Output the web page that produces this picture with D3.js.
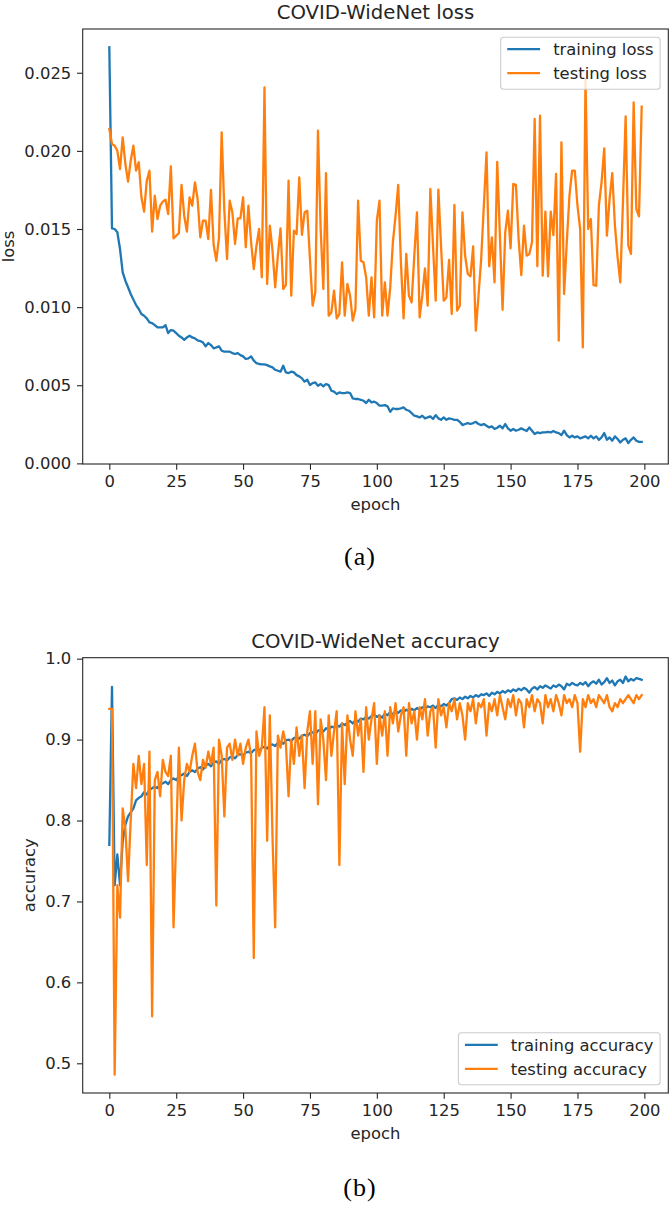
<!DOCTYPE html>
<html>
<head>
<meta charset="utf-8">
<script src="https://cdn.jsdelivr.net/npm/d3@7"></script>
<style>
  body { margin: 0; background: #fff; }
  text { font-family: "DejaVu Sans", sans-serif; fill: #262626; }
</style>
</head>
<body>
<div id="chart"></div>
<script>
// ---- tick labels ----
var epochTicks = [0, 25, 50, 75, 100, 125, 150, 175, 200];
var lossTicks = [0, 0.005, 0.010, 0.015, 0.020, 0.025];
var accTicks = [0.5, 0.6, 0.7, 0.8, 0.9, 1.0];

// ---- series (one value per epoch, 0..199) ----
var trainLoss = [
  0.02663, 0.01504, 0.01500, 0.01479, 0.01372, 0.01223, 0.01169, 0.01127, 0.01084, 0.01048,
  0.01013, 0.00988, 0.00956, 0.00945, 0.00928, 0.00902, 0.00898, 0.00885, 0.00870, 0.00870,
  0.00870, 0.00885, 0.00834, 0.00853, 0.00849, 0.00834, 0.00817, 0.00806, 0.00791, 0.00806,
  0.00817, 0.00806, 0.00800, 0.00787, 0.00783, 0.00774, 0.00749, 0.00770, 0.00757, 0.00736,
  0.00742, 0.00749, 0.00721, 0.00715, 0.00715, 0.00715, 0.00706, 0.00700, 0.00706, 0.00693,
  0.00685, 0.00668, 0.00672, 0.00685, 0.00657, 0.00642, 0.00636, 0.00634, 0.00634, 0.00629,
  0.00621, 0.00614, 0.00599, 0.00593, 0.00587, 0.00625, 0.00582, 0.00578, 0.00587, 0.00582,
  0.00565, 0.00557, 0.00544, 0.00523, 0.00535, 0.00501, 0.00514, 0.00518, 0.00497, 0.00508,
  0.00493, 0.00508, 0.00501, 0.00465, 0.00459, 0.00444, 0.00454, 0.00450, 0.00450, 0.00454,
  0.00450, 0.00416, 0.00412, 0.00412, 0.00407, 0.00401, 0.00386, 0.00407, 0.00390, 0.00395,
  0.00386, 0.00369, 0.00369, 0.00373, 0.00365, 0.00330, 0.00352, 0.00348, 0.00348, 0.00352,
  0.00358, 0.00343, 0.00337, 0.00322, 0.00305, 0.00301, 0.00294, 0.00305, 0.00288, 0.00294,
  0.00301, 0.00284, 0.00309, 0.00288, 0.00279, 0.00294, 0.00279, 0.00288, 0.00284, 0.00279,
  0.00279, 0.00266, 0.00245, 0.00252, 0.00258, 0.00252, 0.00258, 0.00266, 0.00252, 0.00245,
  0.00252, 0.00241, 0.00230, 0.00237, 0.00220, 0.00228, 0.00241, 0.00224, 0.00252, 0.00224,
  0.00209, 0.00220, 0.00209, 0.00215, 0.00224, 0.00215, 0.00207, 0.00230, 0.00209, 0.00188,
  0.00198, 0.00194, 0.00198, 0.00198, 0.00202, 0.00198, 0.00207, 0.00198, 0.00194, 0.00181,
  0.00209, 0.00181, 0.00166, 0.00177, 0.00166, 0.00173, 0.00160, 0.00166, 0.00173, 0.00160,
  0.00177, 0.00160, 0.00173, 0.00151, 0.00166, 0.00194, 0.00151, 0.00166, 0.00145, 0.00173,
  0.00156, 0.00134, 0.00151, 0.00160, 0.00130, 0.00151, 0.00166, 0.00145, 0.00138, 0.00138
];
var testLoss = [
  0.02140, 0.02044, 0.02033, 0.02001, 0.01884, 0.02087, 0.01916, 0.01803, 0.01937, 0.02033,
  0.01873, 0.01927, 0.01703, 0.01611, 0.01809, 0.01873, 0.01483, 0.01713, 0.01564, 0.01649,
  0.01675, 0.01688, 0.01596, 0.01901, 0.01440, 0.01457, 0.01474, 0.01782, 0.01585, 0.01483,
  0.01703, 0.01649, 0.01799, 0.01692, 0.01447, 0.01553, 0.01553, 0.01436, 0.01750, 0.01398,
  0.01297, 0.01447, 0.02119, 0.01617, 0.01308, 0.01681, 0.01607, 0.01404, 0.01568, 0.01568,
  0.01703, 0.01383, 0.01649, 0.01415, 0.01244, 0.01393, 0.01500, 0.01191, 0.02407, 0.01148,
  0.01521, 0.01361, 0.01127, 0.01329, 0.01504, 0.01116, 0.01141, 0.01809, 0.01073, 0.01489,
  0.01468, 0.01831, 0.01462, 0.01607, 0.01617, 0.01308, 0.01009, 0.01095, 0.02129, 0.01500,
  0.01116, 0.01858, 0.00945, 0.00966, 0.01105, 0.00928, 0.00956, 0.01287, 0.00945, 0.01148,
  0.01073, 0.00913, 0.00988, 0.01681, 0.01297, 0.01287, 0.01191, 0.00945, 0.01191, 0.00934,
  0.01553, 0.01681, 0.00945, 0.01158, 0.00945, 0.01126, 0.01415, 0.01585, 0.01782, 0.01286,
  0.00928, 0.01340, 0.01073, 0.01030, 0.01329, 0.01607, 0.00934, 0.01073, 0.01248, 0.01009,
  0.01756, 0.01393, 0.01041, 0.01752, 0.01393, 0.01041, 0.01062, 0.01303, 0.00956, 0.01654,
  0.00977, 0.01009, 0.01607, 0.01329, 0.01212, 0.01197, 0.01389, 0.00849, 0.01073, 0.01308,
  0.01649, 0.01990, 0.01261, 0.01447, 0.01158, 0.01930, 0.01457, 0.00983, 0.01479, 0.01617,
  0.01376, 0.01788, 0.01782, 0.01436, 0.01205, 0.01521, 0.01329, 0.01340, 0.01415, 0.02204,
  0.01261, 0.02225, 0.01201, 0.01611, 0.01197, 0.01611, 0.01461, 0.01852, 0.00785, 0.02055,
  0.01084, 0.01415, 0.01713, 0.01873, 0.01873, 0.01649, 0.01500, 0.00742, 0.02460, 0.01500,
  0.01564, 0.01141, 0.01137, 0.01649, 0.01799, 0.02016, 0.01457, 0.01692, 0.01858, 0.01521,
  0.01318, 0.01158, 0.01671, 0.02220, 0.01393, 0.01340, 0.02310, 0.01628, 0.01581, 0.02283
];
var trainAcc = [
  0.770, 0.965, 0.720, 0.758, 0.720, 0.775, 0.795, 0.805, 0.810, 0.815,
  0.825, 0.828, 0.830, 0.835, 0.832, 0.838, 0.840, 0.842, 0.840, 0.845,
  0.846, 0.848, 0.845, 0.850, 0.852, 0.850, 0.855, 0.856, 0.858, 0.855,
  0.860, 0.862, 0.860, 0.864, 0.866, 0.863, 0.868, 0.870, 0.867, 0.872,
  0.873, 0.870, 0.875, 0.876, 0.874, 0.878, 0.879, 0.877, 0.881, 0.882,
  0.880, 0.884, 0.885, 0.883, 0.887, 0.888, 0.886, 0.890, 0.891, 0.889,
  0.893, 0.894, 0.892, 0.896, 0.897, 0.895, 0.899, 0.900, 0.898, 0.902,
  0.903, 0.901, 0.905, 0.906, 0.904, 0.908, 0.909, 0.907, 0.911, 0.912,
  0.910, 0.914, 0.912, 0.916, 0.915, 0.918, 0.916, 0.920, 0.918, 0.921,
  0.923, 0.920, 0.924, 0.922, 0.926, 0.925, 0.928, 0.926, 0.929, 0.931,
  0.928, 0.930, 0.927, 0.932, 0.930, 0.934, 0.931, 0.935, 0.933, 0.936,
  0.934, 0.937, 0.935, 0.938, 0.936, 0.939, 0.937, 0.940, 0.938, 0.941,
  0.940, 0.942, 0.939, 0.943, 0.941, 0.944, 0.942, 0.945, 0.950, 0.951,
  0.949, 0.952, 0.950, 0.953, 0.951, 0.954, 0.952, 0.955, 0.953, 0.956,
  0.955, 0.957, 0.954, 0.958, 0.956, 0.959, 0.957, 0.960, 0.958, 0.961,
  0.959, 0.962, 0.960, 0.963, 0.961, 0.964, 0.962, 0.958, 0.963, 0.965,
  0.962, 0.966, 0.964, 0.967, 0.965, 0.963, 0.967, 0.965, 0.968, 0.966,
  0.962, 0.969, 0.967, 0.970, 0.968, 0.967, 0.970, 0.968, 0.971, 0.966,
  0.970, 0.972, 0.969, 0.974, 0.968, 0.971, 0.976, 0.970, 0.973, 0.967,
  0.972, 0.974, 0.970, 0.978, 0.972, 0.975, 0.973, 0.976, 0.975, 0.974
];
var testAcc = [
  0.938, 0.938, 0.486, 0.720, 0.680, 0.815, 0.790, 0.725, 0.800, 0.870,
  0.840, 0.880, 0.845, 0.870, 0.745, 0.885, 0.558, 0.850, 0.860, 0.830,
  0.875, 0.860, 0.855, 0.880, 0.668, 0.780, 0.890, 0.800, 0.850, 0.870,
  0.860, 0.880, 0.895, 0.860, 0.850, 0.875, 0.865, 0.885, 0.870, 0.890,
  0.695, 0.900, 0.880, 0.805, 0.890, 0.895, 0.875, 0.900, 0.880, 0.895,
  0.870, 0.890, 0.900, 0.880, 0.630, 0.910, 0.880, 0.890, 0.940, 0.775,
  0.930, 0.780, 0.668, 0.905, 0.890, 0.910, 0.895, 0.830, 0.900, 0.870,
  0.915, 0.880, 0.905, 0.840, 0.910, 0.935, 0.870, 0.935, 0.820, 0.925,
  0.900, 0.850, 0.930, 0.880, 0.910, 0.935, 0.745, 0.920, 0.845, 0.930,
  0.900, 0.880, 0.935, 0.905, 0.925, 0.860, 0.940, 0.900, 0.925, 0.945,
  0.870, 0.930, 0.905, 0.935, 0.880, 0.940, 0.920, 0.945, 0.910, 0.930,
  0.940, 0.880, 0.945, 0.920, 0.935, 0.900, 0.940, 0.925, 0.950, 0.905,
  0.935, 0.940, 0.890, 0.950, 0.930, 0.940, 0.915, 0.945, 0.935, 0.950,
  0.925, 0.945, 0.930, 0.900, 0.945, 0.935, 0.950, 0.920, 0.945, 0.940,
  0.950, 0.905, 0.945, 0.935, 0.950, 0.930, 0.955, 0.940, 0.925, 0.950,
  0.940, 0.955, 0.930, 0.950, 0.945, 0.915, 0.950, 0.940, 0.955, 0.935,
  0.950, 0.945, 0.920, 0.955, 0.940, 0.950, 0.935, 0.955, 0.945, 0.930,
  0.955, 0.945, 0.950, 0.940, 0.955, 0.945, 0.885, 0.950, 0.940, 0.955,
  0.945, 0.950, 0.940, 0.955, 0.950, 0.945, 0.955, 0.940, 0.935, 0.945,
  0.940, 0.950, 0.945, 0.950, 0.955, 0.950, 0.945, 0.955, 0.950, 0.955
];

// ---- page / figure geometry ----
var svgWidth = 672;
var svgHeight = 1206;
var fontSize = 16.4;          // 10pt matplotlib text at this scale
var tickLen = 5.7;
var tickPad = 5.7;
var axLeft = 82.7;
var axRight = 668.3;
var blue = "#1f77b4";
var orange = "#ff7f0e";

var svg = d3.select("#chart")
  .append("svg")
  .attr("width", svgWidth)
  .attr("height", svgHeight)
  .style("background", "#fff");

// shared epoch scale (matplotlib pads 5% on both sides of 0..199)
var xScale = d3.scaleLinear()
  .domain([-9.95, 208.95])
  .range([axLeft, axRight]);

function drawPanel(p) {
  var yScale = d3.scaleLinear()
    .domain(p.yDomain)
    .range([p.bottom, p.top]);

  var g = svg.append("g");

  // lines
  var line = d3.line()
    .x(function(d, i) { return xScale(i); })
    .y(function(d) { return yScale(d); });

  p.series.forEach(function(s) {
    g.append("path")
      .datum(s.values)
      .attr("fill", "none")
      .attr("stroke", s.color)
      .attr("stroke-width", 2.3)
      .attr("stroke-linejoin", "round")
      .attr("stroke-linecap", "square")
      .attr("d", line);
  });

  // axes
  var xAxis = g.append("g")
    .attr("transform", `translate(0, ${p.bottom})`)
    .call(d3.axisBottom(xScale)
      .tickValues(epochTicks)
      .tickSize(tickLen)
      .tickPadding(tickPad)
      .tickFormat(d3.format("d")));

  var yAxis = g.append("g")
    .attr("transform", `translate(${axLeft}, 0)`)
    .call(d3.axisLeft(yScale)
      .tickValues(p.ticks)
      .tickSize(tickLen)
      .tickPadding(tickPad)
      .tickFormat(d3.format(p.fmt)));

  [xAxis, yAxis].forEach(function(a) {
    a.select(".domain").remove();
    a.selectAll(".tick line").attr("stroke", "#262626").attr("stroke-width", 1.1);
    a.selectAll(".tick text")
      .attr("fill", "#262626")
      .style("font-family", "DejaVu Sans")
      .style("font-size", fontSize + "px");
  });

  // frame
  g.append("rect")
    .attr("x", axLeft)
    .attr("y", p.top)
    .attr("width", axRight - axLeft)
    .attr("height", p.bottom - p.top)
    .attr("fill", "none")
    .attr("stroke", "#262626")
    .attr("stroke-width", 1.1);

  // title
  g.append("text")
    .attr("x", (axLeft + axRight) / 2)
    .attr("y", p.top - 9.8)
    .attr("text-anchor", "middle")
    .style("font-size", "19.7px")
    .text(p.title);

  // x label
  g.append("text")
    .attr("x", (axLeft + axRight) / 2)
    .attr("y", p.bottom + 45.5)
    .attr("text-anchor", "middle")
    .style("font-size", fontSize + "px")
    .text("epoch");

  // y label, placed just left of the widest tick label
  var widest = d3.max(yAxis.selectAll(".tick text").nodes(), function(n) { return n.getBBox().width; });
  var labelX = axLeft - tickLen - tickPad - widest - 6.6 - 3.9;
  g.append("text")
    .attr("transform", `translate(${labelX}, ${(p.top + p.bottom) / 2}) rotate(-90)`)
    .attr("text-anchor", "middle")
    .style("font-size", fontSize + "px")
    .text(p.ylabel);

  // legend
  var pad = 0.4 * fontSize;
  var handle = 2.0 * fontSize;
  var textPad = 0.8 * fontSize;
  var rowGap = 24;
  var leg = g.append("g");
  var box = leg.append("rect");
  var labels = leg.selectAll("text.leg")
    .data(p.series)
    .enter()
    .append("text")
    .attr("class", "leg")
    .style("font-size", fontSize + "px")
    .attr("dy", "0.35em")
    .text(function(d) { return d.label; });
  var textW = d3.max(labels.nodes(), function(n) { return n.getComputedTextLength(); });
  var boxW = pad + handle + textPad + textW + pad;
  var boxH = 52;
  var boxX = axRight - 0.5 * fontSize - boxW;
  var boxY = p.legendLoc === "upper" ? p.top + 0.5 * fontSize : p.bottom - 0.5 * fontSize - boxH;
  box.attr("x", boxX)
    .attr("y", boxY)
    .attr("width", boxW)
    .attr("height", boxH)
    .attr("rx", 3)
    .attr("fill", "#fff")
    .attr("fill-opacity", 0.8)
    .attr("stroke", "#cccccc")
    .attr("stroke-width", 1.1);
  labels
    .attr("x", boxX + pad + handle + textPad)
    .attr("y", function(d, i) { return boxY + 12 + i * rowGap; });
  leg.selectAll("line.leg")
    .data(p.series)
    .enter()
    .append("line")
    .attr("x1", boxX + pad)
    .attr("x2", boxX + pad + handle)
    .attr("y1", function(d, i) { return boxY + 12 + i * rowGap; })
    .attr("y2", function(d, i) { return boxY + 12 + i * rowGap; })
    .attr("stroke", function(d) { return d.color; })
    .attr("stroke-width", 2.3);

  // caption under the panel
  g.append("text")
    .attr("x", 360)
    .attr("y", p.captionY)
    .attr("text-anchor", "middle")
    .style("font-family", "Liberation Serif, serif")
    .style("font-size", "26px")
    .style("letter-spacing", "1px")
    .style("fill", "#000")
    .text(p.caption);
}

drawPanel({
  top: 29,
  bottom: 464,
  yDomain: [-0.00004, 0.0278],
  ticks: lossTicks,
  fmt: ".3f",
  title: "COVID-WideNet loss",
  ylabel: "loss",
  legendLoc: "upper",
  caption: "(a)",
  captionY: 565,
  series: [
    { label: "training loss", values: trainLoss, color: blue },
    { label: "testing loss", values: testLoss, color: orange }
  ]
});

drawPanel({
  top: 657.7,
  bottom: 1093,
  yDomain: [0.4633, 1.0012],
  ticks: accTicks,
  fmt: ".1f",
  title: "COVID-WideNet accuracy",
  ylabel: "accuracy",
  legendLoc: "lower",
  caption: "(b)",
  captionY: 1196,
  series: [
    { label: "training accuracy", values: trainAcc, color: blue },
    { label: "testing accuracy", values: testAcc, color: orange }
  ]
});
</script>
</body>
</html>
